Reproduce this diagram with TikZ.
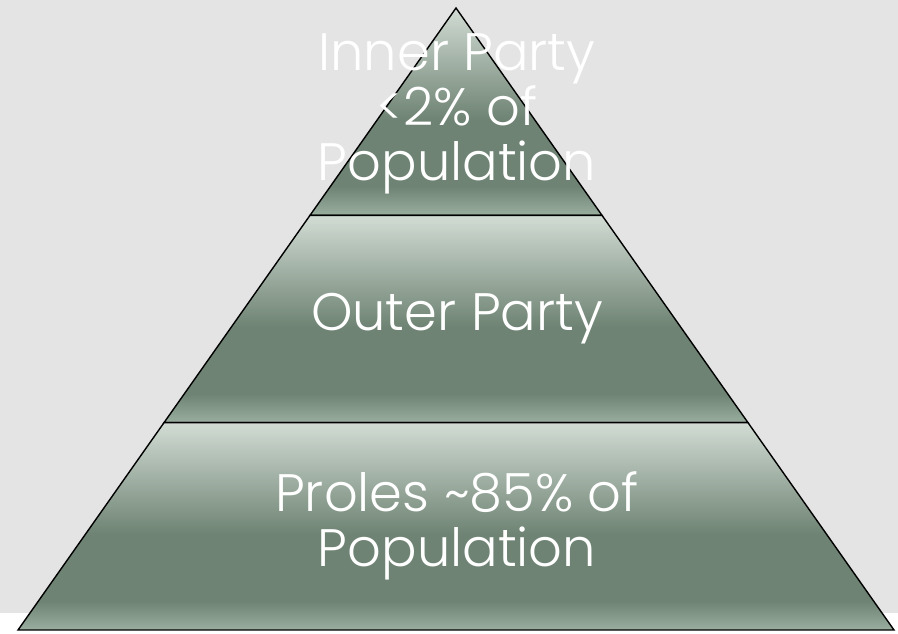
\documentclass[tikz,border=0pt]{standalone}
\usepackage{fontspec}
\setmainfont{Poppins Light}
\usetikzlibrary{calc}
\definecolor{tiertop}{HTML}{D2DCD4}
\definecolor{tierdark}{HTML}{6E8373}
\definecolor{tierbottom}{HTML}{9AAE9F}
\definecolor{backgray}{HTML}{E4E4E4}
% the path is fitted to the part from 25bp to 75bp
\pgfdeclareverticalshading{tiershade}{100bp}{color(0bp)=(tierbottom); color(25bp)=(tierbottom); color(32bp)=(tierdark); color(48bp)=(tierdark); color(75bp)=(tiertop); color(100bp)=(tiertop)}

\begin{document}
\begin{tikzpicture}[x=0.02cm, y=-0.02cm]
    \tikzstyle{tier}=[shading=tiershade, draw=black, line width=0.8pt, line join=miter]
    \tikzstyle{tiertext}=[text=white, align=center, inner sep=0pt, font=\fontsize{30}{31.5}\selectfont]

    % Draw the background
    \useasboundingbox (0,0) rectangle (898,633);
    \fill[white] (0,0) rectangle (898,633);
    \fill[backgray] (0,0) rectangle (898,613);

    % Corners of the pyramid
    \coordinate (apex) at (456,8);
    \coordinate (BL) at (18,630);
    \coordinate (BR) at (894,630);
    \foreach \i / \f in {1/0.3333,2/0.6667}
    {
        \coordinate (L-\i) at ($(apex)!\f!(BL)$);
        \coordinate (R-\i) at ($(apex)!\f!(BR)$);
    }

    % Draw the three tiers
    \path[tier] (apex) -- (R-1) -- (L-1) -- cycle;
    \path[tier] (L-1) -- (R-1) -- (R-2) -- (L-2) -- cycle;
    \path[tier] (L-2) -- (R-2) -- (BR) -- (BL) -- cycle;

    % Annotate the tiers
    \node[tiertext] (inner) at (457,114) {Inner Party\\<2\% of\\Population};
    \node[tiertext] (outer) at (457,319) {Outer Party};
    \node[tiertext] (proles) at (457,526) {Proles \textasciitilde85\% of\\Population};
\end{tikzpicture}
\end{document}
